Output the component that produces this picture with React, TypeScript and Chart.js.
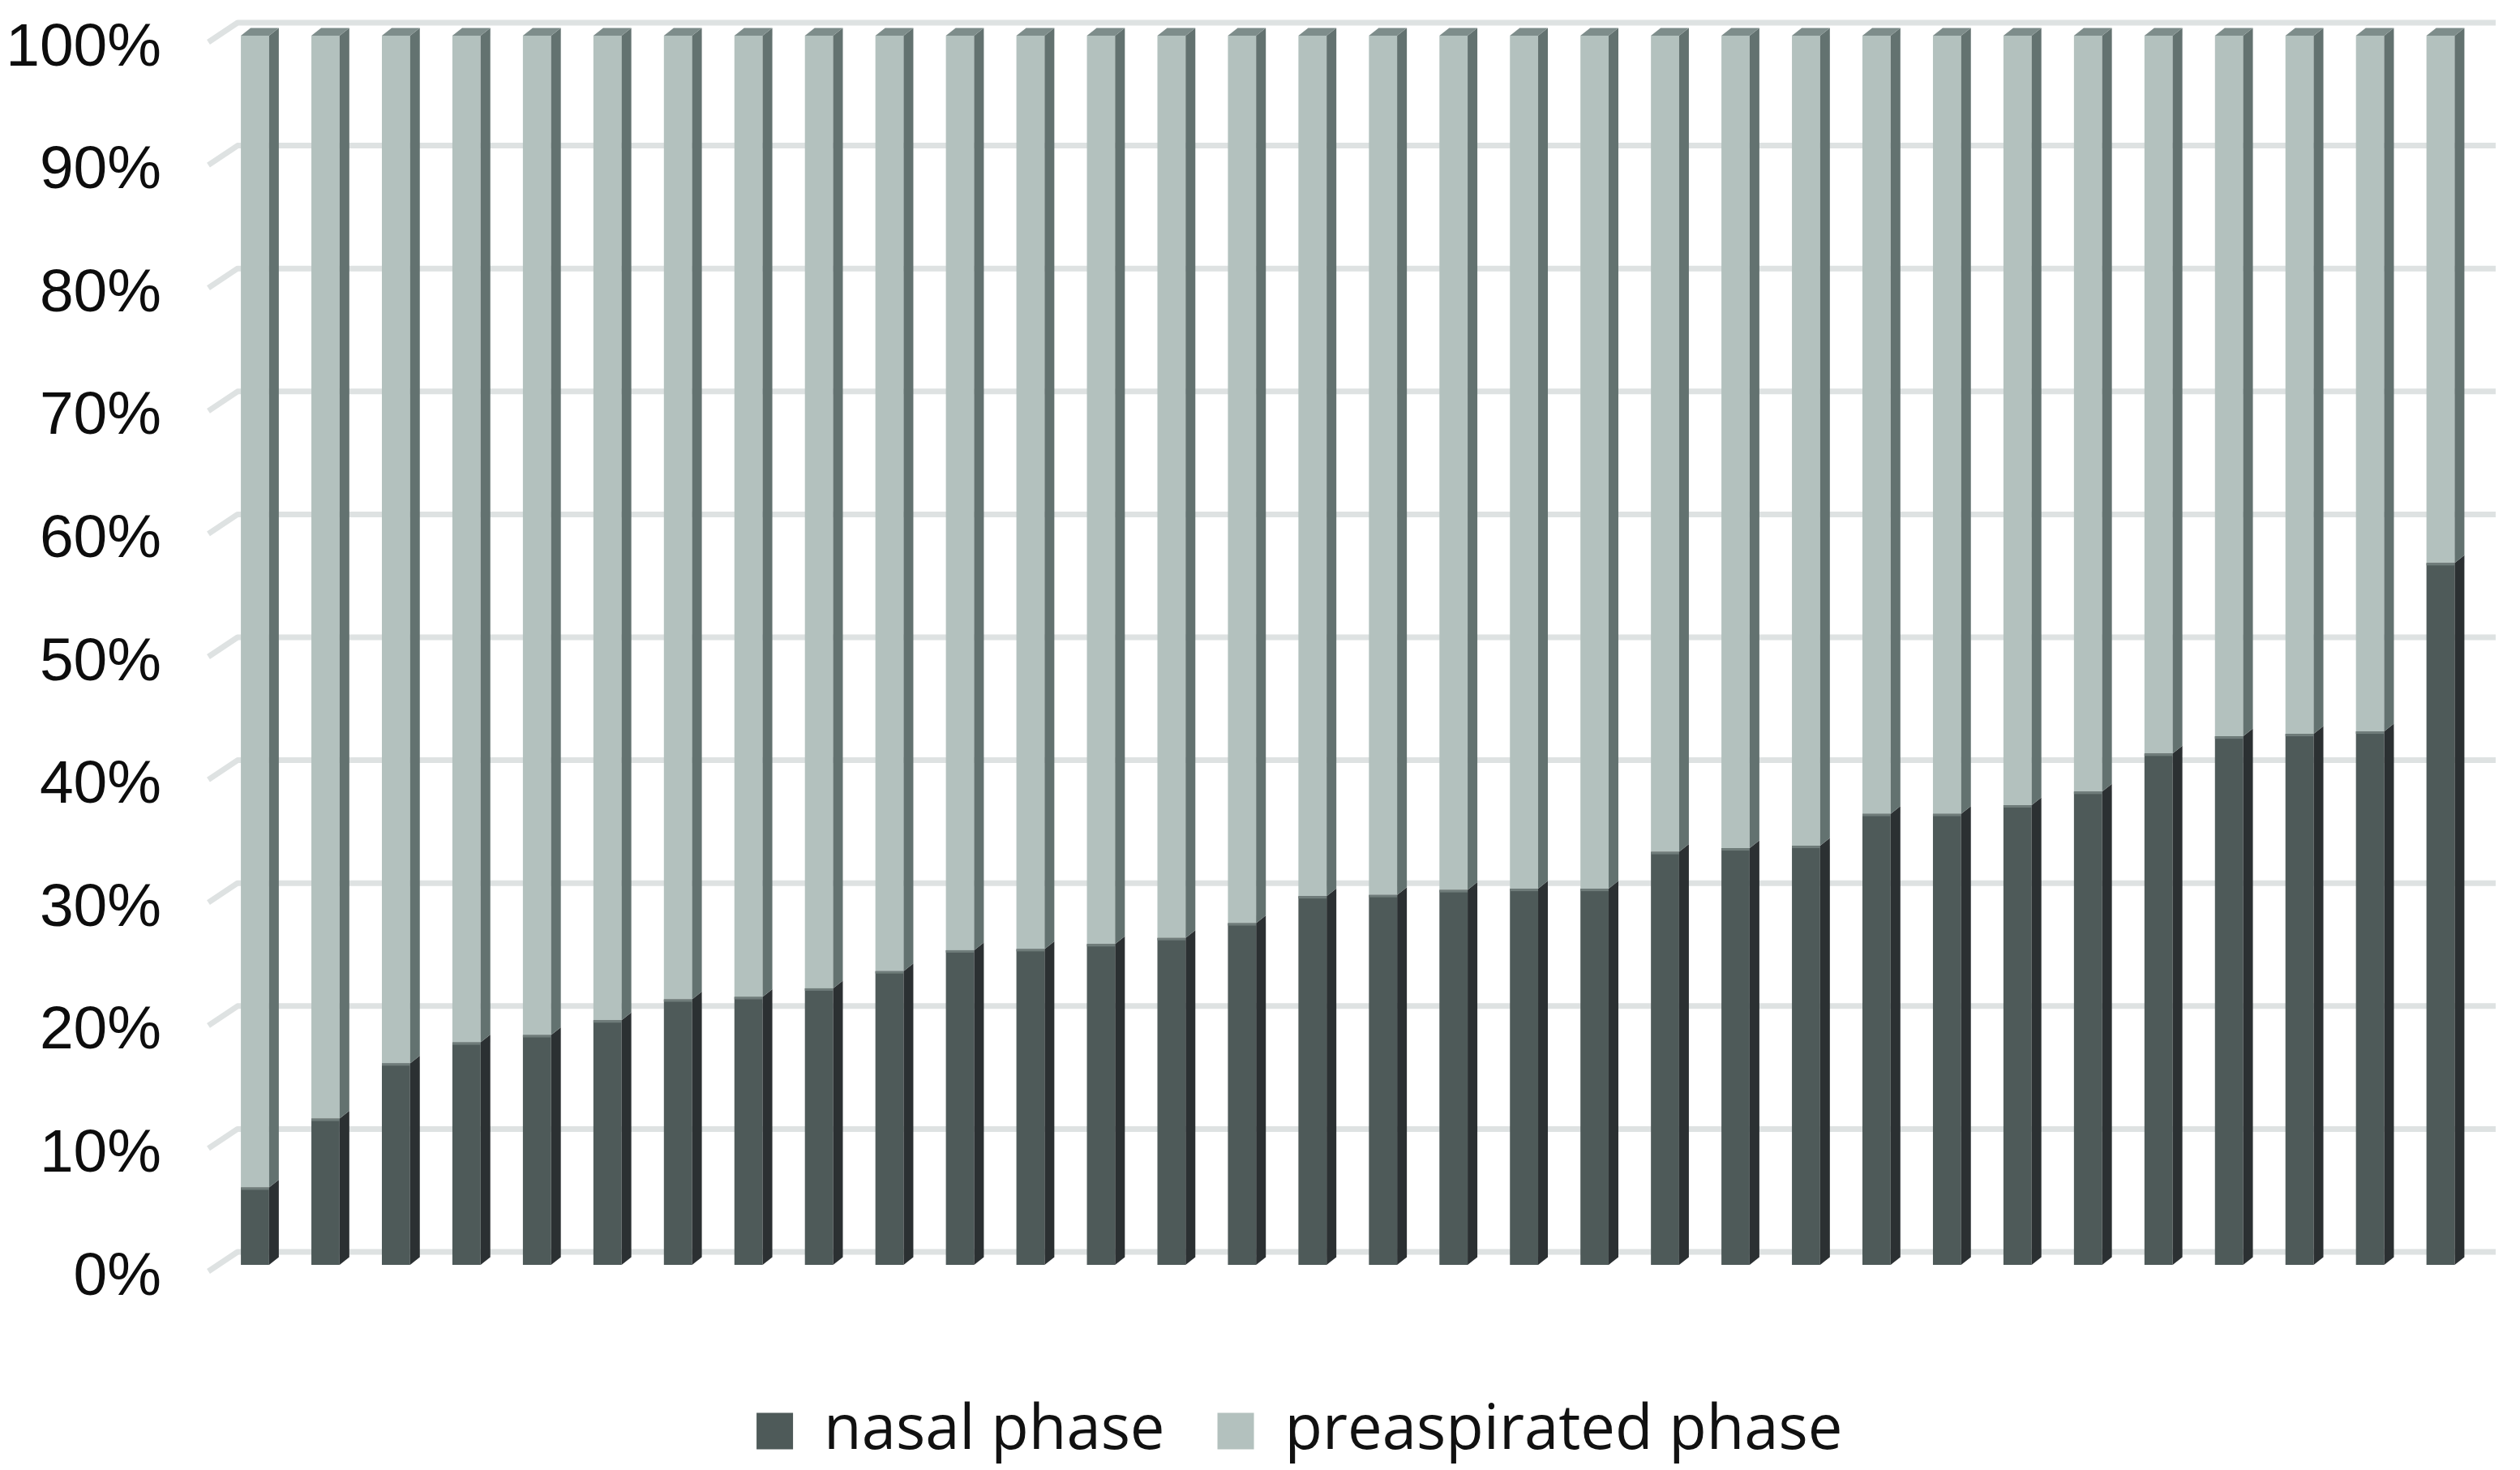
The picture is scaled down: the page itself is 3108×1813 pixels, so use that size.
import React, { useEffect, useRef } from 'react';
import { Chart, registerables } from 'chart.js';

Chart.register(...registerables);

// ---------- data ----------
const categories = [
  '1', '2', '3', '4', '5', '6', '7', '8', '9', '10', '11', '12', '13', '14', '15', '16',
  '17', '18', '19', '20', '21', '22', '23', '24', '25', '26', '27', '28', '29', '30', '31', '32',
];
const nasalPhase = [
  6.3, 11.9, 16.4, 18.1, 18.7, 19.9, 21.6, 21.8, 22.5, 23.9, 25.6, 25.7, 26.1, 26.6, 27.8, 30.0,
  30.1, 30.5, 30.6, 30.6, 33.6, 33.9, 34.1, 36.7, 36.7, 37.4, 38.5, 41.6, 43.0, 43.2, 43.4, 57.1,
];
const preaspiratedPhase = [
  93.7, 88.1, 83.6, 81.9, 81.3, 80.1, 78.4, 78.2, 77.5, 76.1, 74.4, 74.3, 73.9, 73.4, 72.2, 70.0,
  69.9, 69.5, 69.4, 69.4, 66.4, 66.1, 65.9, 63.3, 63.3, 62.6, 61.5, 58.4, 57.0, 56.8, 56.6, 42.9,
];
const seriesNames = ['nasal phase', 'preaspirated phase'];
const yTickValues = [0, 10, 20, 30, 40, 50, 60, 70, 80, 90, 100];

// ---------- styles ----------
const FRONT_COLORS = ['#4E5A59', '#B3C1BE'];
const SIDE_COLORS = ['#2B3032', '#637270'];
const TOP_COLOR = '#7E8D8B';
const EDGE_COLOR = '#6F7C7A';
const GRID_COLOR = '#DEE2E2';
const DX = 12;
const DY = 9.5;
const LEGEND_PAD = 65;
const LEGEND_FONT = 76;
const LEGEND_SHIFT = 76;

const bar3dPlugin = {
  id: 'bar3d',
  afterLayout(chart: any) {
    const lg = chart.legend;
    if (lg) {
      lg.left += LEGEND_SHIFT;
      lg.right += LEGEND_SHIFT;
    }
  },
  beforeDatasetsDraw(chart: any) {
    const { ctx, chartArea, scales } = chart;
    const ys = scales.y;
    ctx.save();
    ctx.strokeStyle = GRID_COLOR;
    ctx.lineWidth = 7;
    ctx.lineJoin = 'round';
    for (const v of yTickValues) {
      const y = ys.getPixelForValue(v);
      ctx.beginPath();
      ctx.moveTo(chartArea.left - 14, y + 8);
      ctx.lineTo(chartArea.left + 22, y - 16);
      ctx.lineTo(chartArea.right + 24.5, y - 16);
      ctx.stroke();
    }
    ctx.restore();
  },
  afterDatasetsDraw(chart: any) {
    const ctx = chart.ctx;
    const n = chart.data.datasets.length;
    ctx.save();
    chart.data.datasets.forEach((_ds: any, di: number) => {
      const meta = chart.getDatasetMeta(di);
      meta.data.forEach((el: any) => {
        const { x, y, base, width } = el.getProps(['x', 'y', 'base', 'width'], true);
        const xl = x - width / 2;
        const xr = x + width / 2;
        const top = Math.min(y, base);
        const bottom = Math.max(y, base);
        ctx.fillStyle = SIDE_COLORS[di];
        ctx.beginPath();
        ctx.moveTo(xr, top);
        ctx.lineTo(xr + DX, top - DY);
        ctx.lineTo(xr + DX, bottom - DY);
        ctx.lineTo(xr, bottom);
        ctx.closePath();
        ctx.fill();
        if (di === 0) {
          ctx.fillStyle = EDGE_COLOR;
          ctx.fillRect(xl, top, width, 3);
        }
        if (di === n - 1) {
          ctx.fillStyle = TOP_COLOR;
          ctx.beginPath();
          ctx.moveTo(xl, top);
          ctx.lineTo(xl + DX, top - DY);
          ctx.lineTo(xr + DX, top - DY);
          ctx.lineTo(xr, top);
          ctx.closePath();
          ctx.fill();
        }
      });
    });
    ctx.restore();
  },
};

export default function App() {
  const canvasRef = useRef<HTMLCanvasElement | null>(null);

  useEffect(() => {
    document.body.style.margin = '0';
    const canvas = canvasRef.current;
    if (!canvas) return;
    const chart = new Chart(canvas, {
      type: 'bar',
      data: {
        labels: categories,
        datasets: [
          {
            label: seriesNames[0],
            data: nasalPhase,
            backgroundColor: FRONT_COLORS[0],
            borderWidth: 0,
            categoryPercentage: 1,
            barPercentage: 0.4,
          },
          {
            label: seriesNames[1],
            data: preaspiratedPhase,
            backgroundColor: FRONT_COLORS[1],
            borderWidth: 0,
            categoryPercentage: 1,
            barPercentage: 0.4,
          },
        ],
      },
      options: {
        animation: false,
        responsive: true,
        maintainAspectRatio: false,
        layout: { padding: { top: 44, left: 0, right: 54.5, bottom: 0 } },
        plugins: {
          tooltip: { enabled: false },
          legend: {
            display: true,
            position: 'bottom',
            labels: {
              boxWidth: 45,
              boxHeight: 45,
              padding: LEGEND_PAD,
              color: '#111111',
              font: { family: 'Open Sans', size: LEGEND_FONT },
            },
          },
        },
        scales: {
          x: {
            stacked: true,
            display: true,
            ticks: { display: false },
            grid: { display: false, drawTicks: false },
            border: { display: false },
            afterFit: (scale: any) => {
              scale.height = 1813 - (LEGEND_FONT + LEGEND_PAD + 10) - 1560;
            },
          },
          y: {
            stacked: true,
            min: 0,
            max: 100,
            grid: { display: false, drawTicks: false },
            border: { display: false },
            ticks: {
              stepSize: 10,
              padding: 72,
              labelOffset: 16,
              color: '#0D0D0D',
              font: { family: 'Liberation Sans', size: 75, lineHeight: 1 },
              callback: (v: any) => `${v}%`,
            },
            afterFit: (scale: any) => {
              scale.width = 271;
              scale.paddingTop = 0;
              scale.paddingBottom = 0;
            },
          },
        },
      },
      plugins: [bar3dPlugin],
    });
    return () => chart.destroy();
  }, []);

  return (
    <div style={{ width: '3108px', height: '1813px', position: 'relative' }}>
      <canvas ref={canvasRef} />
    </div>
  );
}
